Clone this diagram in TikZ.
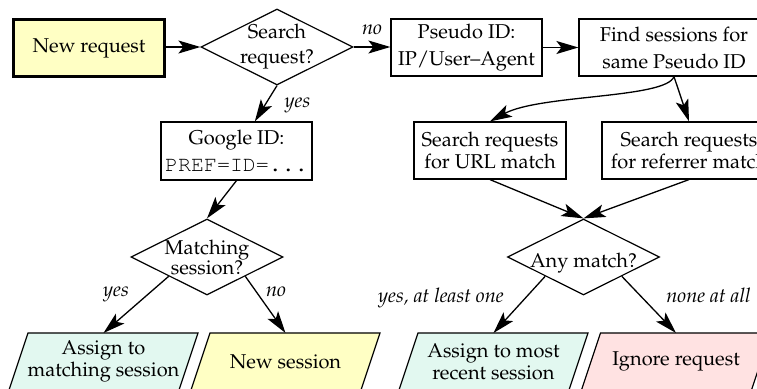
\documentclass[tikz,border=0pt]{standalone}
\usepackage[T1]{fontenc}
\usepackage{mathpazo}
\usepackage{courier}
\usetikzlibrary{shapes.geometric,arrows.meta}

\definecolor{startyellow}{RGB}{255,255,196}
\definecolor{mintfill}{RGB}{226,248,240}
\definecolor{rosefill}{RGB}{255,226,226}

\pgfdeclarelayer{background}
\pgfsetlayers{background,main}

\tikzset{
  basefont/.style={font=\fontsize{10pt}{11pt}\selectfont},
  box/.style={basefont, draw, rectangle, line width=0.6pt, align=center,
    minimum width=75.5pt, minimum height=28.5pt, inner sep=1.5pt},
  startbox/.style={box, fill=startyellow, line width=1.5pt},
  decision/.style={basefont, draw, diamond, line width=0.6pt, aspect=2,
    inner sep=0pt, minimum width=76pt, minimum height=38pt},
  % text area of a slanted outcome box; the slanted outline is drawn behind it
  outcome/.style={basefont, rectangle, align=center, inner sep=0pt, outer sep=0pt,
    minimum width=85pt, minimum height=28.5pt},
  slant/.style={draw, line width=0.6pt, line join=miter},
  arr/.style={line width=0.65pt, -{Stealth[length=11pt,width=6.5pt,inset=2.5pt]}},
  branch/.style={font=\fontsize{10pt}{11pt}\selectfont\itshape, anchor=base, inner sep=0pt},
}

% parallelogram outline round an outcome node: #1 node name, #2 fill colour
\newcommand\drawslantbox[2]{%
  \path[slant, fill=#2]
    ([xshift=4.75pt]#1.north west) -- ([xshift=4.75pt]#1.north east)
    -- ([xshift=-4.75pt]#1.south east) -- ([xshift=-4.75pt]#1.south west) -- cycle;
}

\begin{document}
\begin{tikzpicture}[x=0.5pt, y=-0.5pt]
  \useasboundingbox (0,0) rectangle (757,389);
  \clip (0,0) rectangle (757,389);

  % top row
  \node[startbox] (newreq) at (89,48.5) {New request};
  \node[decision, label={[align=center]center:Search\\[0.5pt]request?}] (search) at (277,47) {};
  \node[box] (pseudo) at (466.5,47.5) {Pseudo ID:\\[2.5pt]IP/User--Agent};
  \node[box, minimum width=95pt] (find) at (674,47.5) {Find sessions for\\[2.5pt]same Pseudo ID};

  % search-engine branch
  \node[box, minimum height=29pt] (google) at (236.5,151)
    {Google ID:\\[2.5pt]{\fontsize{10.8pt}{11pt}\ttfamily PREF=ID=...}};
  \node[decision, label={[align=center]center:Matching\\[-2pt]session?}] (matching) at (207,257) {};
  \node[outcome] (assignm) at (103.5,361.5) {Assign to\\matching session};
  \node[outcome] (newsess) at (285.5,361.5) {New session};

  % pseudo-ID branch
  \node[box, minimum width=76pt] (url) at (490,150.5) {Search requests\\for URL match};
  \node[box, minimum width=87pt] (ref) at (689,150.5) {Search requests\\for referrer match};
  \node[decision, label={[yshift=-3pt]center:Any match?}] (anymatch) at (583.5,257) {};
  \node[outcome] (assignr) at (493.5,361.5) {Assign to most\\recent session};
  \node[outcome] (ignore) at (676,361.5) {Ignore request};

  \begin{pgfonlayer}{background}
    \drawslantbox{assignm}{mintfill}
    \drawslantbox{newsess}{startyellow}
    \drawslantbox{assignr}{mintfill}
    \drawslantbox{ignore}{rosefill}
  \end{pgfonlayer}

  % connectors
  \draw[arr] (newreq.east |- search.west) -- (search.west);
  \draw[arr] (search.east) -- (search.east -| pseudo.west);
  \draw[arr] (pseudo.east) -- (find.west);
  \draw[arr] (search.south) -- (google);
  \draw[arr] (google.south) -- (matching.north);
  \draw[arr] (matching.south west) -- (assignm.north);
  \draw[arr] (matching.south east) -- (newsess.north);
  \draw[arr] (find.south) .. controls +(-8,22) and +(50,-27) .. (url.north);
  \draw[arr] (find.south) -- (ref.north);
  \draw[arr] (url.south) -- (anymatch.north);
  \draw[arr] (ref.south) -- (anymatch.north);
  \draw[arr] (anymatch.south west) -- (assignr.north);
  \draw[arr] (anymatch.south east) -- (ignore.north);

  % branch labels
  \node[branch] (lnotop) at (372,35) {no};
  \node[branch] (lyestop) at (297.5,108) {yes};
  \node[branch] (lyesmatch) at (116,296.5) {yes};
  \node[branch] (lnomatch) at (276,296.5) {no};
  \node[branch] (lyesany) at (441,303) {yes, at least one};
  \node[branch] (lnoneany) at (708.5,303) {none at all};
\end{tikzpicture}
\end{document}
